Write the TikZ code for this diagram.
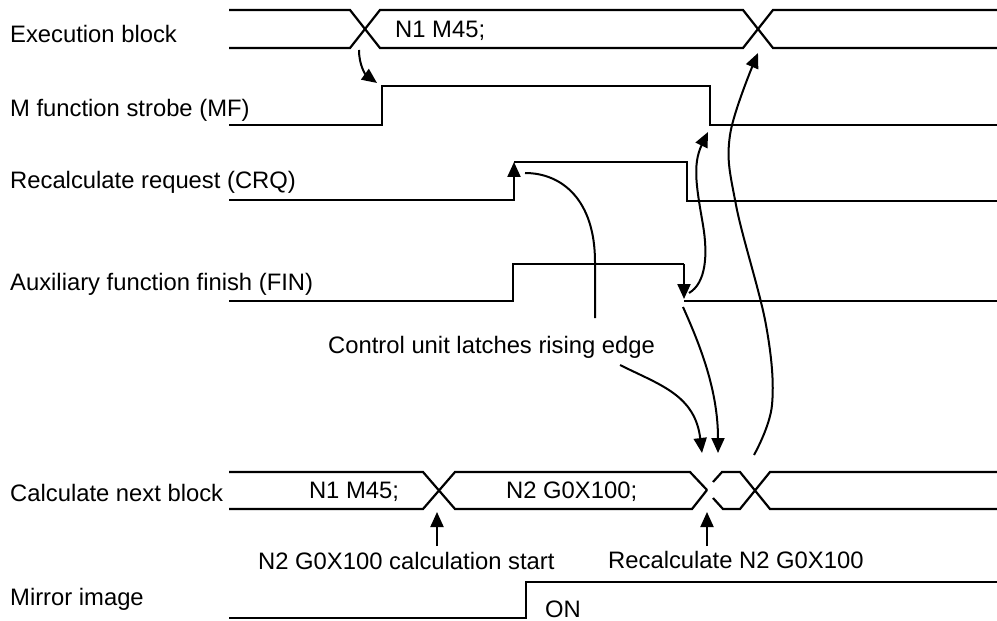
\documentclass[tikz,border=0pt]{standalone}
\usepackage{fontspec}
\setmainfont{Liberation Sans}
\usetikzlibrary{arrows.meta}
\begin{document}
\begin{tikzpicture}[x=1bp,y=-1bp,
  wave/.style={line width=2.2bp, line join=miter},
  conn/.style={line width=2bp},
  tipped/.style={-{Triangle[length=15bp,width=13bp]}},
  txt/.style={inner sep=0pt, font=\fontsize{23.8bp}{28bp}\selectfont},
  lbl/.style={txt, anchor=base west}]
\useasboundingbox (0,0) rectangle (997,621);

% row labels
\node[lbl] (lexe)  at (10,43)  {Execution block};
\node[lbl] (lmf)   at (10,117) {M function strobe (MF)};
\node[lbl] (lcrq)  at (10,189) {Recalculate request (CRQ)};
\node[lbl] (lfin)  at (10,291) {Auxiliary function finish (FIN)};
\node[lbl] (lcalc) at (10,501) {Calculate next block};
\node[lbl] (lmir)  at (10,605) {Mirror image};

% Execution block
\draw[wave] (229,10) -- (350,10) -- (380,48) -- (743,48) -- (773,10) -- (997,10);
\draw[wave] (229,48) -- (350,48) -- (380,10) -- (743,10) -- (773,48) -- (997,48);
\node[lbl] (exN1) at (395,38) {N1 M45;};

% MF
\draw[wave] (229,125) -- (382,125) -- (382,86) -- (710,86) -- (710,125) -- (997,125);

% CRQ
\draw[wave,tipped] (229,200) -- (514,200) -- (514,162);
\draw[wave] (514,162) -- (687,162) -- (687,201) -- (997,201);

% FIN
\draw[wave] (229,301) -- (513,301) -- (513,264) -- (684,264);
\draw[wave,tipped] (684,264) -- (684,299);
\draw[wave] (684,301) -- (997,301);

% Calculate next block
\draw[wave] (229,472) -- (423,472) -- (455,509) -- (692,509) -- (707,490);
\draw[wave] (229,509) -- (423,509) -- (455,472) -- (690,472) -- (707,490);
\draw[wave] (713,482) -- (722,472) -- (740,472) -- (770,509) -- (997,509);
\draw[wave] (713,498) -- (723,509) -- (740,509) -- (770,472) -- (997,472);
\node[txt, anchor=base] (cN1) at (354,498) {N1 M45;};
\node[lbl] (cN2) at (506,498) {N2 G0X100;};

% Mirror image
\draw[wave] (229,618) -- (526,618) -- (526,582) -- (997,582);
\node[lbl] (on) at (545,617) {ON};

% annotations below calc
\node[lbl] (start) at (258,569) {N2 G0X100 calculation start};
\node[lbl] (recalc) at (608,568) {Recalculate N2 G0X100};
\coordinate (a1s) at (437,546); \coordinate (a1e) at (437,512);
\coordinate (a2s) at (707,546); \coordinate (a2e) at (707,512);
\draw[conn,tipped] (a1s) -- (a1e);
\draw[conn,tipped] (a2s) -- (a2e);

% latch text
\node[lbl] (latch) at (328,353) {Control unit latches rising edge};

% connectors
\coordinate (e1) at (359,50);
\coordinate (mfr) at (377,83);
\draw[conn,tipped] (e1) .. controls (359,66) and (366,75) .. (mfr);

\draw[conn,tipped] plot[smooth, tension=0.6] coordinates {(754,455) (772,405) (766,325) (736,205) (730,135) (758,53)};

\coordinate (finf) at (689,293);
\coordinate (mff) at (708,132);
\draw[conn,tipped] (finf) .. controls (706,283) and (708,255) .. (703,225)
  .. controls (697,190) and (692,165) .. (mff);

\coordinate (fin2) at (683,307);
\coordinate (t2) at (718,453);
\draw[conn,tipped] (fin2) .. controls (700,345) and (718,390) .. (t2);

\coordinate (lt1) at (620,365);
\coordinate (t1) at (702,453);
\draw[conn,tipped] (lt1) .. controls (660,385) and (695,395) .. (t1);

\coordinate (lt0) at (595,318);
\coordinate (crqr) at (525,173);
\draw[conn] (lt0) -- (595,262) .. controls (595,200) and (562,173) .. (crqr);
\end{tikzpicture}
\end{document}
